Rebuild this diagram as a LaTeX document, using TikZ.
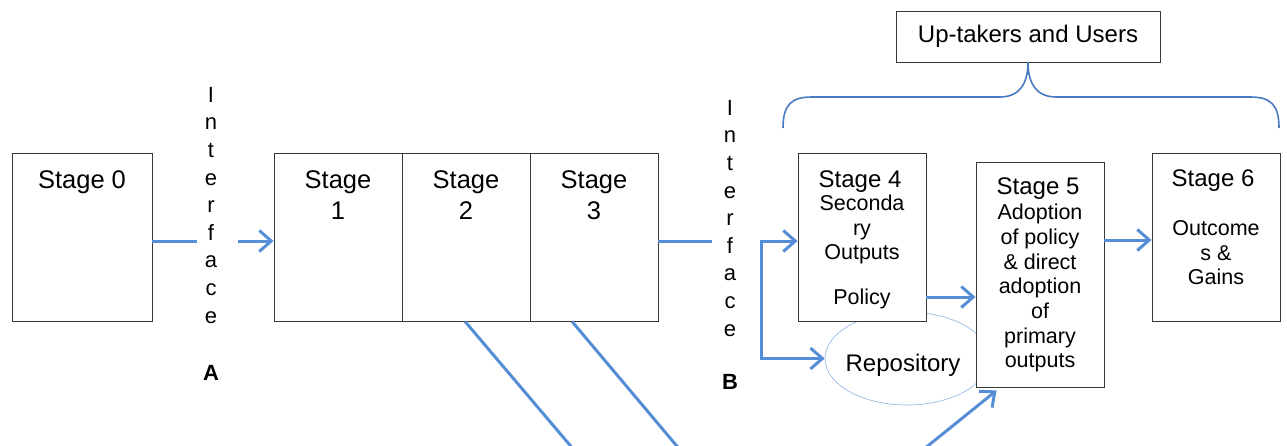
\documentclass[tikz,border=0pt]{standalone}
\usepackage{fontspec}
\setmainfont{Liberation Sans}
\usetikzlibrary{arrows.meta,shapes.geometric}
\definecolor{flowblue}{RGB}{85,142,213}
\definecolor{braceblue}{RGB}{72,122,192}
\definecolor{repoblue}{RGB}{140,178,228}
\definecolor{boxline}{RGB}{55,55,55}
\tikzset{
  stagebox/.style={draw=boxline,line width=0.9pt,fill=white,inner sep=0pt,
    minimum width=128pt,minimum height=168pt},
  boxtext/.style={anchor=north,inner sep=0pt,align=center,
    font=\fontsize{25.5}{31}\selectfont},
  headtext/.style={anchor=north,inner sep=0pt,align=center,
    font=\fontsize{24}{26}\selectfont},
  smalltext/.style={anchor=north,inner sep=0pt,align=center,
    font=\fontsize{21.5}{24.8}\selectfont},
  ifacetext/.style={anchor=north,inner sep=0pt,align=center,
    font=\fontsize{22}{27.6}\selectfont},
  ifacelabel/.style={inner sep=0pt,font=\fontsize{22}{26}\selectfont\bfseries},
  flow/.style={draw=flowblue,line width=3pt},
  flowarrow/.style={flow,-{Straight Barb[length=12pt,width=21pt]}},
  bracket/.style={draw=braceblue,line width=1.6pt},
  repo/.style={ellipse,draw=repoblue,line width=0.6pt,inner sep=0pt,
    minimum width=164pt,minimum height=93pt}
}
\begin{document}
\begin{tikzpicture}[x=1pt,y=-1pt]
\useasboundingbox (0,0) rectangle (1287,445);

% repository sits behind stages 4 and 5
\node[repo] (rep) at (907,358.5) {};
\node[inner sep=0pt,font=\fontsize{24}{28}\selectfont] (reptext) at (903,365) {Repository};

% stage boxes
\node[stagebox,minimum width=140pt] (s0) at (82,237) {};
\node[stagebox] (s1) at (338,237) {};
\node[stagebox] (s2) at (466,237) {};
\node[stagebox] (s3) at (594,237) {};
\node[stagebox] (s4) at (862,237) {};
\node[stagebox,minimum height=225pt] (s5) at (1040,274.5) {};
\node[stagebox] (s6) at (1216,237) {};
\node[stagebox,minimum width=264pt,minimum height=51pt] (up) at (1028,36.5) {};

% box texts
\node[boxtext] (s0t) at (82,170) {Stage 0};
\node[boxtext] (s1t) at (338,170) {Stage\\1};
\node[boxtext] (s2t) at (466,170) {Stage\\2};
\node[boxtext] (s3t) at (594,170) {Stage\\3};
\node[headtext] (s4h) at (860,170.5) {Stage 4};
\node[smalltext] (s4t) at (862,194.5) {Seconda\\ry\\Outputs\\[20pt]Policy};
\node[headtext] (s5h) at (1038,178) {Stage 5};
\node[smalltext,font=\fontsize{21.5}{24.7}\selectfont] (s5t) at (1040,204)
  {Adoption\\of policy\\\& direct\\adoption\\of\\primary\\outputs};
\node[headtext] (s6h) at (1213,170) {Stage 6};
\node[smalltext] (s6b) at (1216,220) {Outcome\\s \&\\Gains};
\node[inner sep=0pt,font=\fontsize{24}{28}\selectfont] (upt) at (1028,36) {Up-takers and Users};

% interfaces
\node[ifacetext] (ifA) at (211,87) {I\\n\\t\\e\\r\\f\\a\\c\\e};
\node[ifacelabel] (labA) at (211,373) {A};
\node[ifacetext] (ifB) at (730,100) {I\\n\\t\\e\\r\\f\\a\\c\\e};
\node[ifacelabel] (labB) at (730,382) {B};

% flow across interface A
\coordinate (ifAl) at (197,241);
\coordinate (ifAr) at (238,241);
\draw[flow] (s0.east |- ifAl) -- (ifAl);
\draw[flowarrow] (ifAr) -- (s1.west |- ifAr);

% flow across interface B, split to stage 4 and repository
\coordinate (ifBl) at (712,241);
\coordinate (bj) at (761,241);
\draw[flow] (s3.east |- ifBl) -- (ifBl);
\draw[flowarrow] (bj) -- (s4.west |- bj);
\draw[flowarrow] ([yshift=1.5pt]bj) |- (rep.west);

% stage 4 -> stage 5 -> stage 6
\coordinate (pol) at (0,297);
\coordinate (r56) at (0,240);
\draw[flowarrow] (s4.east |- pol) -- (s5.west |- pol);
\draw[flowarrow] (s5.east |- r56) -- (s6.west |- r56);

% primary outputs leaving stages 2 and 3, returning into stage 5
\coordinate (d1) at ([xshift=-1pt]s2.south);
\coordinate (d2) at ([xshift=-22pt]s3.south);
\coordinate (d1e) at (591,470);
\coordinate (d2e) at (697,470);
\coordinate (d3s) at (898,470);
\coordinate (s5in) at ([xshift=21pt,yshift=-3pt]s5.south west);
\begin{scope}
  \clip (0,0) rectangle (1287,445);
  \draw[flow] (d1) -- (d1e);
  \draw[flow] (d2) -- (d2e);
  \draw[flowarrow] (d3s) -- (s5in);
\end{scope}

% brace under the up-takers box
\coordinate (bl) at (783,128);
\coordinate (br) at (1279,128);
\draw[bracket] (bl) .. controls (783,104) and (792,97) .. (812,97) -- (1000,97)
  .. controls (1019,97) and (1028,84) .. (up.south);
\draw[bracket] (up.south) .. controls (1028,84) and (1037,97) .. (1056,97)
  -- (1250,97) .. controls (1270,97) and (1279,104) .. (br);
\end{tikzpicture}
\end{document}
